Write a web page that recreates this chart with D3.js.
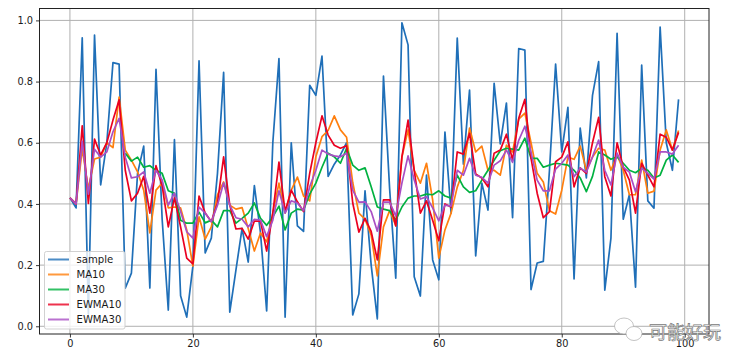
<!DOCTYPE html>
<html>
<head>
<meta charset="utf-8">
<script src="https://cdn.jsdelivr.net/npm/d3@7"></script>
<style>
    html, body { margin: 0; padding: 0; background: #fff; }
    svg { display: block; }
    text { font-family: "DejaVu Sans", sans-serif; fill: #1a1a1a; }
</style>
</head>
<body>
<script>
    var sample = [.42,.387,.943,.04,.952,.462,.6,.862,.857,.125,.174,.5,.589,.125,.84,.35,.053,.61,.1,.03,
        .197,.868,.24,.288,.5,.83,.046,.184,.32,.21,.46,.305,.05,.6,.875,.03,.6,.328,.31,.788,
        .755,.883,.49,.53,.56,.6,.037,.106,.443,.2,.024,.818,.45,.157,.992,.92,.162,.099,.494,.217,
        .152,.635,.37,.942,.53,.772,.23,.468,.38,.794,.596,.73,.355,.908,.903,.12,.207,.212,.51,.857,
        .57,.716,.155,.648,.485,.755,.865,.118,.288,.958,.35,.43,.128,.854,.41,.386,.978,.6,.51,.742];
    var ma10 = [.42,.40,.58,.45,.547,.553,.6,.584,.749,.576,.543,.505,.445,.305,.445,.468,.387,.39,.387,.315,
        .197,.358,.285,.325,.43,.472,.396,.383,.388,.32,.246,.305,.276,.37,.468,.37,.445,.488,.426,.41,
        .554,.62,.64,.688,.642,.618,.47,.37,.35,.298,.165,.325,.378,.33,.553,.642,.51,.468,.533,.413,
        .223,.315,.37,.455,.51,.648,.57,.589,.51,.51,.494,.592,.57,.677,.697,.6,.5,.472,.378,.367,
        .445,.553,.546,.589,.51,.553,.582,.576,.51,.56,.51,.43,.43,.543,.435,.442,.576,.642,.576,.64];
    // MA30 only shows up from index 9 on
    var ma30 = [null,null,null,null,null,null,null,null,null,.566,.54,.553,.52,.525,.51,.5,.443,.435,.347,.337,
        .337,.373,.338,.347,.325,.378,.378,.337,.353,.37,.403,.353,.33,.358,.393,.315,.37,.383,.38,.432,
        .468,.52,.566,.554,.533,.582,.527,.51,.518,.456,.39,.383,.378,.347,.39,.419,.426,.426,.432,.43,
        .443,.426,.419,.494,.456,.438,.443,.478,.51,.543,.574,.582,.579,.576,.615,.549,.549,.52,.527,.533,
        .53,.527,.51,.485,.44,.49,.57,.56,.546,.554,.533,.51,.502,.517,.51,.485,.494,.543,.56,.536];
    var ewma10 = [.42,.40,.655,.402,.612,.56,.6,.674,.74,.51,.41,.435,.49,.37,.525,.46,.325,.42,.325,.223,
        .204,.426,.37,.342,.403,.554,.396,.318,.32,.285,.344,.344,.246,.37,.537,.375,.445,.407,.375,.5,
        .6,.688,.625,.592,.582,.59,.403,.308,.353,.31,.217,.413,.413,.328,.554,.674,.51,.37,.41,.347,
        .28,.4,.39,.57,.563,.631,.498,.485,.456,.566,.576,.628,.543,.68,.742,.55,.435,.355,.375,.538,
        .553,.603,.456,.518,.5,.6,.683,.489,.426,.6,.52,.478,.37,.533,.494,.456,.628,.618,.576,.634];
    var ewma30 = [.42,.40,.605,.432,.579,.553,.57,.636,.68,.553,.485,.489,.505,.435,.51,.478,.396,.435,.375,.309,
        .288,.39,.37,.342,.396,.469,.396,.355,.35,.325,.35,.347,.293,.347,.443,.37,.41,.403,.378,.456,
        .51,.576,.563,.557,.554,.566,.445,.406,.407,.375,.311,.406,.406,.361,.468,.557,.478,.416,.423,.387,
        .345,.396,.393,.51,.494,.549,.494,.487,.468,.527,.541,.576,.536,.608,.654,.57,.478,.443,.443,.514,
        .533,.56,.489,.517,.504,.554,.609,.51,.462,.566,.52,.504,.44,.517,.5,.481,.57,.57,.563,.592];

    var seriesNames = ["sample", "MA10", "MA30", "EWMA10", "EWMA30"];
    var seriesValues = [sample, ma10, ma30, ewma10, ewma30];
    var seriesColors = ["#1f6fb8", "#ff7f0e", "#00b140", "#ea0020", "#a94fc4"];
    var xTicks = [0, 20, 40, 60, 80, 100];
    var yTicks = [0, .2, .4, .6, .8, 1];

    var width = 743, height = 364;
    var margin = {top: 8.5, right: 34, bottom: 30, left: 39.5};

    var svg = d3.select("body").append("svg")
        .attr("width", width)
        .attr("height", height);

    var xScale = d3.scaleLinear().domain([-4.95, 103.95]).range([margin.left, width - margin.right]);
    var yScale = d3.scaleLinear().domain([-0.0252, 1.0389]).range([height - margin.bottom, margin.top]);

    // grid
    svg.append("g").selectAll("line").data(xTicks).enter().append("line")
        .attr("x1", xScale).attr("x2", xScale)
        .attr("y1", margin.top).attr("y2", height - margin.bottom)
        .attr("stroke", "#b0b0b0").attr("stroke-width", 1);
    svg.append("g").selectAll("line").data(yTicks).enter().append("line")
        .attr("y1", yScale).attr("y2", yScale)
        .attr("x1", margin.left).attr("x2", width - margin.right)
        .attr("stroke", "#b0b0b0").attr("stroke-width", 1);

    // series
    seriesValues.forEach(function(values, i) {
        var line = d3.line()
            .defined(function(v) { return v !== null; })
            .x(function(v, index) { return xScale(index); })
            .y(function(v) { return yScale(v); });
        svg.append("path")
            .attr("d", line(values))
            .attr("fill", "none")
            .attr("stroke", seriesColors[i])
            .attr("stroke-width", 1.7)
            .attr("stroke-linejoin", "round");
    });

    // frame
    svg.append("rect")
        .attr("x", margin.left).attr("y", margin.top)
        .attr("width", width - margin.left - margin.right)
        .attr("height", height - margin.top - margin.bottom)
        .attr("fill", "none").attr("stroke", "#222").attr("stroke-width", 1);

    var xAxis = d3.axisBottom(xScale).tickValues(xTicks).tickFormat(d3.format("d")).tickSize(3.5).tickPadding(3);
    var yAxis = d3.axisLeft(yScale).tickValues(yTicks).tickFormat(d3.format(".1f")).tickSize(3.5).tickPadding(3);
    [svg.append("g").attr("transform", "translate(0," + (height - margin.bottom) + ")").call(xAxis),
     svg.append("g").attr("transform", "translate(" + margin.left + ",0)").call(yAxis)].forEach(function(axis) {
        axis.select(".domain").remove();
        axis.selectAll("line").attr("stroke", "#222").attr("stroke-width", 0.9);
        axis.selectAll("text").style("font-size", "9.8px").style("font-family", '"DejaVu Sans", sans-serif').attr("fill", "#1a1a1a");
    });

    // legend
    var legend = svg.append("g").attr("transform", "translate(44.5,251.5)");
    legend.append("rect")
        .attr("width", 80.5).attr("height", 77.5).attr("rx", 2)
        .attr("fill", "#fff").attr("fill-opacity", 0.8)
        .attr("stroke", "#ccc").attr("stroke-width", 0.9);
    seriesNames.forEach(function(name, i) {
        var row = legend.append("g").attr("transform", "translate(0," + (8 + i * 15) + ")");
        row.append("line")
            .attr("x1", 3.5).attr("x2", 24.5)
            .attr("stroke", seriesColors[i]).attr("stroke-opacity", 0.8).attr("stroke-width", 2);
        row.append("text").attr("x", 32).attr("y", 3.5)
            .style("font-size", "10.1px").text(name);
    });

    // watermark
    var mark = svg.append("g").attr("fill", "#fff").attr("stroke", "#aaa").attr("stroke-width", 0.7);
    mark.append("ellipse").attr("cx", 624).attr("cy", 326).attr("rx", 9.5).attr("ry", 8);
    mark.append("ellipse").attr("cx", 634).attr("cy", 333.5).attr("rx", 8).attr("ry", 7);
    mark.append("text").attr("x", 649).attr("y", 339)
        .style("font-family", '"Noto Sans CJK SC"').style("font-size", "18px")
        .style("fill", "#fff").style("stroke", "#777").style("stroke-width", 0.7)
        .text("可能好玩");
</script>
</body>
</html>
